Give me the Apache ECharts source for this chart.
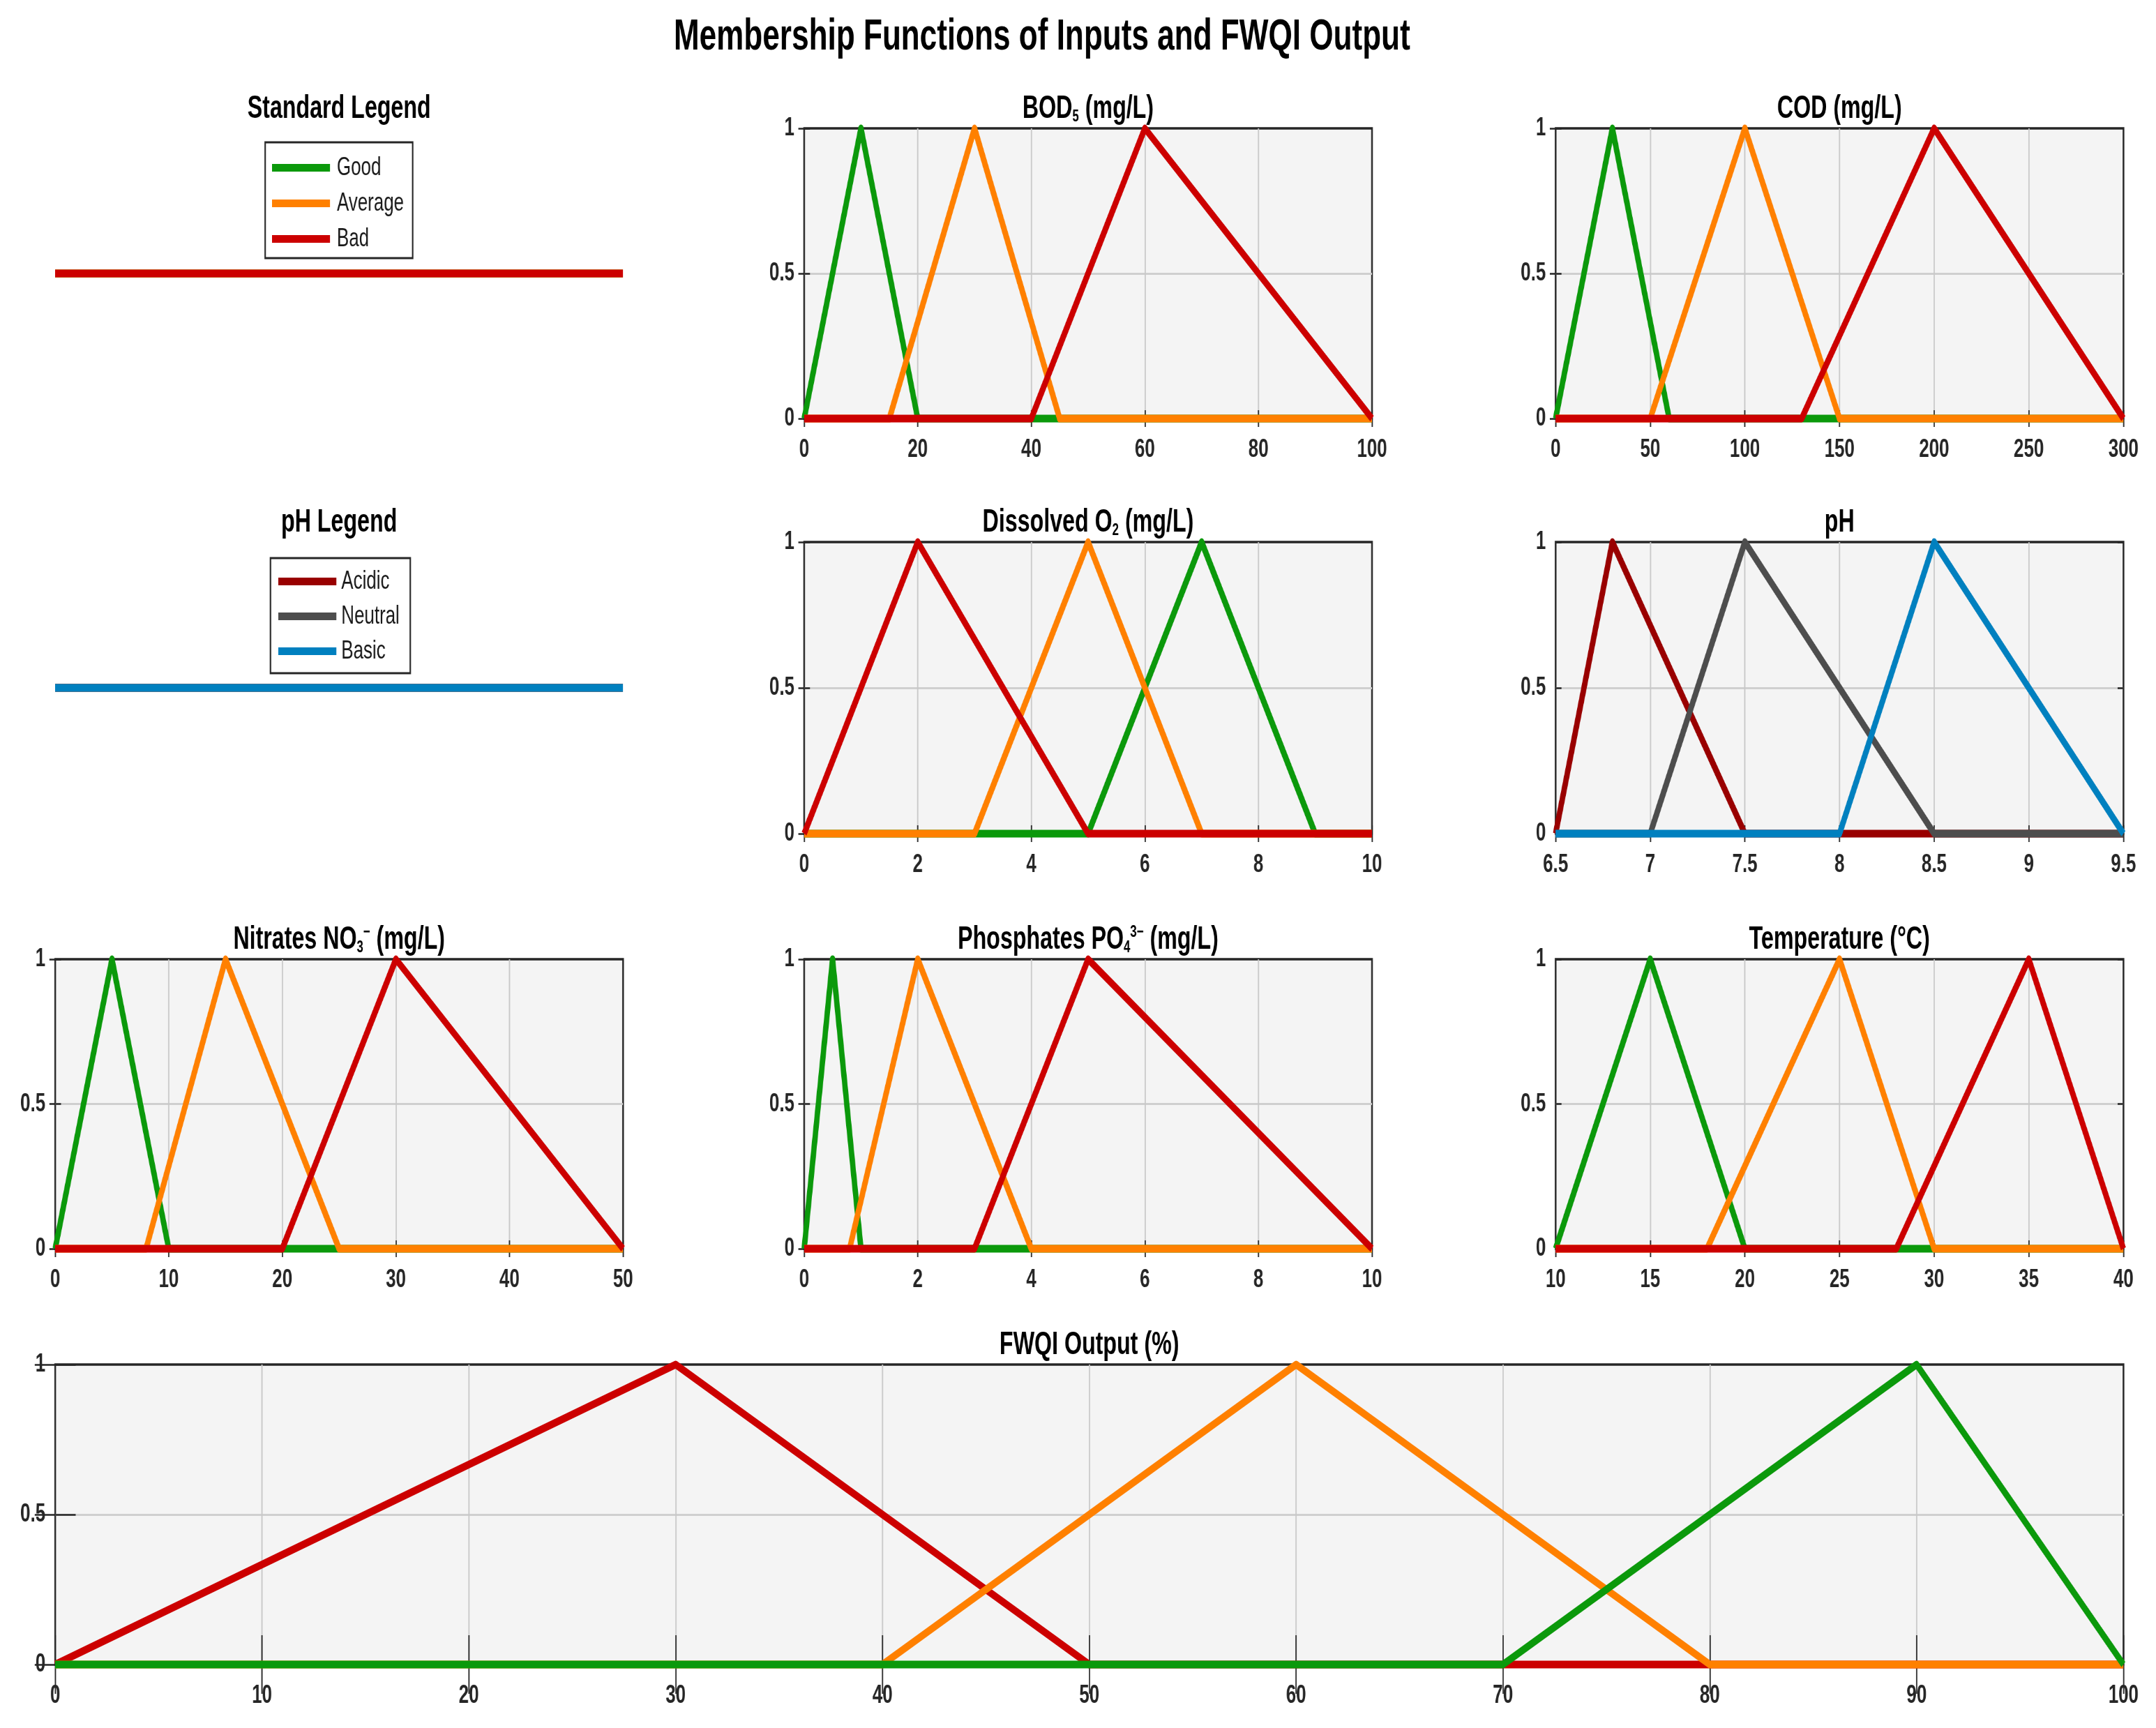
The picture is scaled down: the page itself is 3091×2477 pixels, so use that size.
<!DOCTYPE html>
<html>
<head>
<meta charset="utf-8">
<title>Membership Functions of Inputs and FWQI Output</title>
<script src="https://cdn.jsdelivr.net/npm/echarts@6/dist/echarts.min.js"></script>
<style>
  html, body { margin: 0; padding: 0; background: #fff; overflow: hidden; }
  /* the figure's lettering is condensed: draw 1/0.7 wider, squeeze back */
  #chart { width: 4416px; height: 2477px; transform: scaleX(0.7); transform-origin: 0 0; }
</style>
</head>
<body>
<div id="chart"></div>
<script>
const FONT = '"Liberation Sans", Arial, Helvetica, sans-serif'
const INK = '#262626'

const GOOD = '#0b990b'
const AVERAGE = '#ff8000'
const BAD = '#cc0000'
const ACIDIC = '#990000'
const NEUTRAL = '#4d4d4d'
const BASIC = '#0080bf'

// x axes: [min, max, tick step]
const bodAxis = [0, 100, 20]
const codAxis = [0, 300, 50]
const doAxis = [0, 10, 2]
const phAxis = [6.5, 9.5, 0.5]
const no3Axis = [0, 50, 10]
const po4Axis = [0, 10, 2]
const tempAxis = [10, 40, 5]
const fwqiAxis = [0, 100, 10]
const muAxis = [0, 1, 0.5]

// membership functions, corner points [x, membership]
const bodGood = [[0, 0], [10, 1], [20, 0], [100, 0]]
const bodAverage = [[0, 0], [15, 0], [30, 1], [45, 0], [100, 0]]
const bodBad = [[0, 0], [40, 0], [60, 1], [100, 0]]

const codGood = [[0, 0], [30, 1], [60, 0], [300, 0]]
const codAverage = [[0, 0], [50, 0], [100, 1], [150, 0], [300, 0]]
const codBad = [[0, 0], [130, 0], [200, 1], [300, 0]]

const doGood = [[0, 0], [5, 0], [7, 1], [9, 0], [10, 0]]
const doAverage = [[0, 0], [3, 0], [5, 1], [7, 0], [10, 0]]
const doBad = [[0, 0], [2, 1], [5, 0], [10, 0]]

const phAcidic = [[6.5, 0], [6.8, 1], [7.5, 0], [9.5, 0]]
const phNeutral = [[6.5, 0], [7, 0], [7.5, 1], [8.5, 0], [9.5, 0]]
const phBasic = [[6.5, 0], [8, 0], [8.5, 1], [9.5, 0]]

const no3Good = [[0, 0], [5, 1], [10, 0], [50, 0]]
const no3Average = [[0, 0], [8, 0], [15, 1], [25, 0], [50, 0]]
const no3Bad = [[0, 0], [20, 0], [30, 1], [50, 0]]

const po4Good = [[0, 0], [0.5, 1], [1, 0], [10, 0]]
const po4Average = [[0, 0], [0.8, 0], [2, 1], [4, 0], [10, 0]]
const po4Bad = [[0, 0], [3, 0], [5, 1], [10, 0]]

const tempGood = [[10, 0], [15, 1], [20, 0], [40, 0]]
const tempAverage = [[10, 0], [18, 0], [25, 1], [30, 0], [40, 0]]
const tempBad = [[10, 0], [28, 0], [35, 1], [40, 0]]

const fwqiBad = [[0, 0], [30, 1], [50, 0], [100, 0]]
const fwqiAverage = [[0, 0], [40, 0], [60, 1], [80, 0], [100, 0]]
const fwqiGood = [[0, 0], [70, 0], [90, 1], [100, 0]]

// the legend subplots only hold a flat line per entry
const legendLine = [[0, 0], [1, 0]]

const standardNames = ['Good', 'Average', 'Bad']
const phNames = ['Acidic', 'Neutral', 'Basic']

// layout (x in the unsqueezed frame)
const COL_LEFT = [113, 1647, 3186]
const COL_WIDTH = 1163
const ROW_TOP = [184, 777, 1375, 1956]
const ROW_HEIGHT = [416, 418, 415, 430]

const panels = [
  { title: 'BOD{sub|5} (mg/L)', col: 1, row: 0, axis: bodAxis,
    mfs: [['Good', bodGood, GOOD], ['Average', bodAverage, AVERAGE], ['Bad', bodBad, BAD]] },
  { title: 'COD (mg/L)', col: 2, row: 0, axis: codAxis,
    mfs: [['Good', codGood, GOOD], ['Average', codAverage, AVERAGE], ['Bad', codBad, BAD]] },
  { title: 'Dissolved O{sub|2} (mg/L)', col: 1, row: 1, axis: doAxis,
    mfs: [['Good', doGood, GOOD], ['Average', doAverage, AVERAGE], ['Bad', doBad, BAD]] },
  { title: 'pH', col: 2, row: 1, axis: phAxis,
    mfs: [['Acidic', phAcidic, ACIDIC], ['Neutral', phNeutral, NEUTRAL], ['Basic', phBasic, BASIC]] },
  { title: 'Nitrates NO{sub|3}{sup|\u2212} (mg/L)', col: 0, row: 2, axis: no3Axis,
    mfs: [['Good', no3Good, GOOD], ['Average', no3Average, AVERAGE], ['Bad', no3Bad, BAD]] },
  { title: 'Phosphates PO{sub|4}{sup|3\u2212} (mg/L)', col: 1, row: 2, axis: po4Axis,
    mfs: [['Good', po4Good, GOOD], ['Average', po4Average, AVERAGE], ['Bad', po4Bad, BAD]] },
  { title: 'Temperature (\u00b0C)', col: 2, row: 2, axis: tempAxis,
    mfs: [['Good', tempGood, GOOD], ['Average', tempAverage, AVERAGE], ['Bad', tempBad, BAD]] },
  { title: 'FWQI Output (%)', col: 0, row: 3, span: 3, axis: fwqiAxis,
    mfs: [['Bad', fwqiBad, BAD], ['Average', fwqiAverage, AVERAGE], ['Good', fwqiGood, GOOD]] },
]

const legendPanels = [
  { title: 'Standard Legend', row: 0, names: standardNames, colors: [GOOD, AVERAGE, BAD],
    box: { left: 543, top: 204, itemGap: 14, padding: [18, 18, 9, 14], textPad: 9 } },
  { title: 'pH Legend', row: 1, names: phNames, colors: [ACIDIC, NEUTRAL, BASIC],
    box: { left: 554, top: 800, itemGap: 13, padding: [15, 22, 13, 16], textPad: 5 } },
]

const grid = []
const xAxis = []
const yAxis = []
const series = []
const legend = []
const graphic = []

const subStyle = { fontSize: 24, fontWeight: 'bold', fontFamily: FONT, lineHeight: 24 }

const addTitle = (text, cx, axisTop) => {
  graphic.push({
    type: 'text',
    x: cx,
    y: axisTop - 51,
    silent: true,
    style: {
      text,
      fill: '#000',
      fontSize: 46,
      fontWeight: 'bold',
      fontFamily: FONT,
      lineHeight: 46,
      align: 'center',
      verticalAlign: 'top',
      rich: {
        sub: { ...subStyle, verticalAlign: 'bottom' },
        sup: { ...subStyle, verticalAlign: 'top' },
      },
    },
  })
}

const tickStyle = (length) => ({
  show: true, inside: true, length, lineStyle: { color: INK, width: 2.5 }
})

panels.forEach((p) => {
  const left = COL_LEFT[p.col]
  const width = p.span ? COL_LEFT[p.col + p.span - 1] + COL_WIDTH - left : COL_WIDTH
  const top = ROW_TOP[p.row]
  const height = ROW_HEIGHT[p.row]
  const tick = Math.round(0.01 * Math.max(width, height))
  const g = grid.length

  grid.push({
    left, top, width, height,
    show: true,
    backgroundColor: '#f4f4f4',
    borderColor: INK,
    borderWidth: 3.5,
    outerBoundsMode: 'none',
  })

  const [min, max, interval] = p.axis
  const [ymin, ymax, yint] = muAxis
  const label = {
    fontSize: 37, fontWeight: 'bold', fontFamily: FONT, color: INK,
    showMinLabel: true, showMaxLabel: true,
  }
  const split = (width, color) => ({
    show: true, showMinLine: false, showMaxLine: false, lineStyle: { color, width }
  })

  xAxis.push({
    gridIndex: g, type: 'value', min, max, interval,
    axisLine: { show: false },
    axisTick: tickStyle(tick),
    axisLabel: { ...label, margin: 26 },
    splitLine: split(2.5, '#c8c8c8'),
  })
  xAxis.push({
    gridIndex: g, type: 'value', position: 'top', min, max, interval,
    axisLine: { show: false },
    axisTick: tickStyle(tick),
    axisLabel: { show: false },
    splitLine: { show: false },
  })
  yAxis.push({
    gridIndex: g, type: 'value', min: ymin, max: ymax, interval: yint,
    axisLine: { show: false },
    axisTick: tickStyle(tick),
    axisLabel: { ...label, margin: 20 },
    splitLine: split(3, '#cfcfcf'),
  })
  yAxis.push({
    gridIndex: g, type: 'value', position: 'right', min: ymin, max: ymax, interval: yint,
    axisLine: { show: false },
    axisTick: tickStyle(tick),
    axisLabel: { show: false },
    splitLine: { show: false },
  })

  p.mfs.forEach(([name, data, color]) => {
    series.push({
      type: 'line',
      name,
      data,
      xAxisIndex: xAxis.length - 2,
      yAxisIndex: yAxis.length - 2,
      showSymbol: false,
      symbol: 'none',
      clip: false,
      silent: true,
      itemStyle: { color },
      lineStyle: { color, width: 11, join: 'round', cap: 'butt' },
    })
  })

  addTitle(p.title, left + width / 2, top)
})

legendPanels.forEach((p) => {
  const top = ROW_TOP[p.row]
  const g = grid.length
  grid.push({ left: COL_LEFT[0], top, width: COL_WIDTH, height: ROW_HEIGHT[p.row], show: false, outerBoundsMode: 'none' })
  xAxis.push({ gridIndex: g, type: 'value', min: 0, max: 1, show: false })
  yAxis.push({ gridIndex: g, type: 'value', min: -1, max: 1, show: false })

  p.names.forEach((name, i) => {
    series.push({
      type: 'line',
      name,
      data: legendLine,
      xAxisIndex: xAxis.length - 1,
      yAxisIndex: yAxis.length - 1,
      showSymbol: false,
      symbol: 'none',
      clip: false,
      silent: true,
      itemStyle: { color: p.colors[i] },
      lineStyle: { color: p.colors[i], width: 11, cap: 'butt' },
    })
  })

  const { left: boxLeft, top: boxTop, itemGap, padding, textPad } = p.box
  legend.push({
    data: p.names,
    orient: 'vertical',
    left: boxLeft,
    top: boxTop,
    icon: 'rect',
    itemWidth: 119,
    itemHeight: 11,
    itemGap,
    padding,
    borderColor: INK,
    borderWidth: 3,
    borderRadius: 0,
    backgroundColor: '#fff',
    selectedMode: false,
    itemStyle: { borderWidth: 0 },
    textStyle: { fontSize: 37, fontFamily: FONT, color: '#1a1a1a', padding: [0, 0, 0, textPad] },
  })

  addTitle(p.title, COL_LEFT[0] + COL_WIDTH / 2, top)
})

graphic.push({
  type: 'text',
  x: 2134,
  y: 22,
  silent: true,
  style: {
    text: 'Membership Functions of Inputs and FWQI Output',
    fill: '#000',
    fontSize: 63,
    fontWeight: 'bold',
    fontFamily: FONT,
    align: 'center',
    verticalAlign: 'top',
  },
})

const chart = echarts.init(document.getElementById('chart'), null, { renderer: 'canvas' })
chart.setOption({
  animation: false,
  backgroundColor: '#ffffff',
  grid,
  xAxis,
  yAxis,
  legend,
  series,
  graphic,
})
</script>
</body>
</html>
